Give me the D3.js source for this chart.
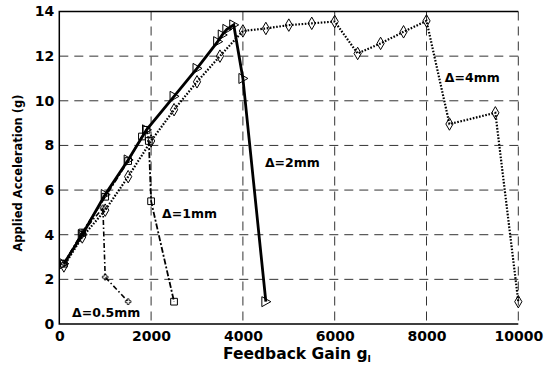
<!DOCTYPE html>
<html><head><meta charset="utf-8">
<script src="https://cdn.jsdelivr.net/npm/d3@7"></script>
<style>
body{margin:0;background:#fff;}
text{font-family:"DejaVu Sans",sans-serif;font-weight:bold;fill:#000;}
</style></head>
<body><svg id="c" width="554" height="365"></svg>
<script>
const xTicks = [0, 2000, 4000, 6000, 8000, 10000];
const yTicks = [0, 2, 4, 6, 8, 10, 12, 14];

const gain05 = [100, 500, 950, 1000, 1500];
const acc05  = [2.7, 4.1, 5.2, 2.1, 1.0];

const gain1 = [100, 500, 1000, 1500, 1800, 1900, 1950, 2000, 2500];
const acc1  = [2.7, 4.1, 5.7, 7.3, 8.4, 8.7, 8.2, 5.5, 1.0];

const gain2 = [100, 500, 1000, 1500, 1900, 2500, 3000, 3450, 3550, 3650, 3800, 4000, 4500];
const acc2  = [2.7, 4.0, 5.8, 7.35, 8.7, 10.2, 11.45, 12.65, 12.95, 13.2, 13.4, 11.0, 1.0];

const gain4 = [100, 500, 1000, 1500, 2000, 2500, 3000, 3500, 4000, 4500, 5000, 5500, 6000, 6500, 7000, 7500, 8000, 8500, 9500, 10000];
const acc4  = [2.6, 3.9, 5.1, 6.6, 8.2, 9.6, 10.85, 12.0, 13.13, 13.24, 13.39, 13.47, 13.55, 12.12, 12.57, 13.09, 13.58, 8.96, 9.46, 1.0];

const seriesLabels = ["\u0394=0.5mm", "\u0394=1mm", "\u0394=2mm", "\u0394=4mm"];

const svg = d3.select("#c");
const L = 59.3, R = 518.3, T = 11.5, B = 324;
const x = d3.scaleLinear().domain([0, 10000]).range([L, R]);
const y = d3.scaleLinear().domain([0, 14]).range([B, T]);

// grid
const grid = svg.append("g");
grid.selectAll(".gx").data(xTicks.slice(1)).enter().append("line")
  .attr("x1", d => x(d)).attr("x2", d => x(d)).attr("y1", T).attr("y2", B)
  .attr("stroke", "#333").attr("stroke-width", 1).attr("stroke-dasharray", "9,6");
grid.selectAll(".gy").data(yTicks.slice(1, -1)).enter().append("line")
  .attr("x1", L).attr("x2", R).attr("y1", d => y(d)).attr("y2", d => y(d))
  .attr("stroke", "#333").attr("stroke-width", 1).attr("stroke-dasharray", "9,6");

// box: left, top, bottom solid
svg.append("path").attr("d", `M${R},${T}H${L}V${B}H${R}`)
  .attr("fill", "none").attr("stroke", "#000").attr("stroke-width", 1.5);

// axes labels via d3 axes
const ax = svg.append("g").attr("transform", `translate(0,${B})`)
  .call(d3.axisBottom(x).tickValues(xTicks).tickSize(0).tickPadding(7).tickFormat(d3.format("d")));
ax.select(".domain").remove();
ax.selectAll("text").style("font-size", "14px").style("font-family", "DejaVu Sans").style("font-weight", "bold").attr("fill", "#000");
const ay = svg.append("g").attr("transform", `translate(${L},0)`)
  .call(d3.axisLeft(y).tickValues(yTicks).tickSize(0).tickPadding(5).tickFormat(d3.format("d")));
ay.select(".domain").remove();
ay.selectAll("text").style("font-size", "14px").style("font-family", "DejaVu Sans").style("font-weight", "bold").attr("fill", "#000");

// lines
const line = d3.line().x(d => x(d[0])).y(d => y(d[1]));
const zip = (a, b) => a.map((v, i) => [v, b[i]]);
const s05 = zip(gain05, acc05), s1 = zip(gain1, acc1), s2 = zip(gain2, acc2), s4 = zip(gain4, acc4);

svg.append("path").datum(s4).attr("d", line).attr("fill", "none")
  .attr("stroke", "#000").attr("stroke-width", 2.2).attr("stroke-dasharray", "1.6,1.6");
svg.append("path").datum(s05).attr("d", line).attr("fill", "none")
  .attr("stroke", "#000").attr("stroke-width", 1.6).attr("stroke-dasharray", "5,2.5,1.5,2.5");
svg.append("path").datum(s1).attr("d", line).attr("fill", "none")
  .attr("stroke", "#000").attr("stroke-width", 1.8).attr("stroke-dasharray", "6,2,2,2");
svg.append("path").datum(s2).attr("d", line).attr("fill", "none")
  .attr("stroke", "#000").attr("stroke-width", 2.8);

// markers
const sym = (type, size) => d3.symbol().type(type).size(size);
const triRight = { draw(ctx, s) { const r = Math.sqrt(s) / 2; ctx.moveTo(-r * 0.8, -r); ctx.lineTo(r, 0); ctx.lineTo(-r * 0.8, r); ctx.closePath(); } };
const mk = (data, shape, size, sw) => svg.append("g").selectAll("path").data(data).enter().append("path")
  .attr("transform", d => `translate(${x(d[0])},${y(d[1])})`)
  .attr("d", sym(shape, size)).attr("fill", "none").attr("stroke", "#000").attr("stroke-width", sw);
mk(s4, d3.symbolDiamond, 45, 1);
mk(s1, d3.symbolSquare, 45, 1);
mk(s2, triRight, 100, 1);
mk(s05, d3.symbolCross, 18, 0.8);

// series labels (anchors in data units)
const labelAnchor = [[277, 0.31], [2240, 4.75], [4480, 7.03], [8400, 10.85]];
svg.selectAll(".lab").data(seriesLabels).enter().append("text")
  .attr("x", (d, i) => x(labelAnchor[i][0])).attr("y", (d, i) => y(labelAnchor[i][1]))
  .style("font-size", "12.5px").text(d => d);

// axis titles
svg.append("text").attr("x", 297).attr("y", 359).attr("text-anchor", "middle")
  .style("font-size", "15.5px")
  .html('Feedback Gain g<tspan dy="3" style="font-size:9px">I</tspan>');
svg.append("text").attr("transform", "translate(22,173) rotate(-90)").attr("text-anchor", "middle")
  .style("font-size", "11.5px").text("Applied Acceleration (g)");
</script></body></html>
